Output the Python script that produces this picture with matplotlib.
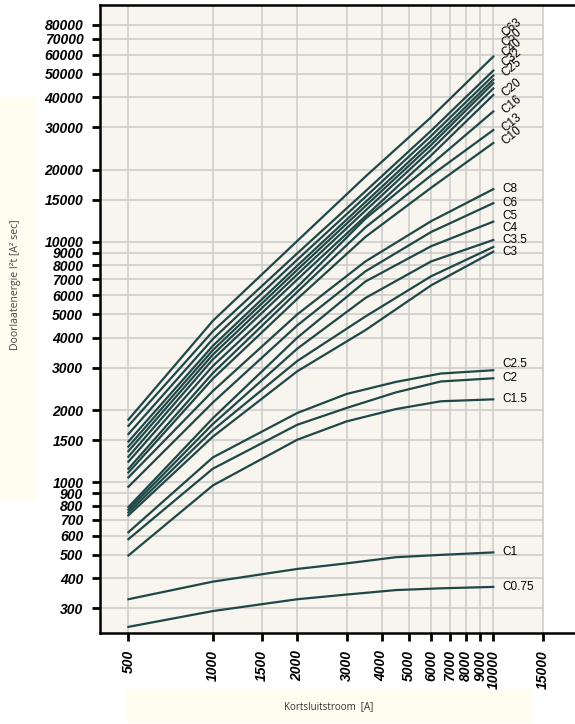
import matplotlib
matplotlib.use("Agg")
import matplotlib.pyplot as plt
from matplotlib.patches import Rectangle
from matplotlib.ticker import FixedLocator, FixedFormatter, NullLocator
import numpy as np

# short-circuit current points [A]
x_upper = [500, 1000, 2000, 3500, 6000, 10000]
x_lower = [500, 1000, 2000, 3000, 4500, 6500, 10000]

# let-through energy I2t [A2 s]
upper_names = ["C63", "C50", "C40", "C32", "C25", "", "C20", "C16", "C13", "C10"]
upper_vals = [
    [1825, 4700, 10100, 18700, 33000, 59000],
    [1720, 4250, 8970, 16250, 29000, 51600],
    [1590, 3950, 8440, 15400, 27600, 49200],
    [1480, 3700, 7970, 14650, 26300, 47300],
    [1410, 3550, 7660, 14100, 25300, 45700],
    [1350, 3400, 7330, 13500, 24200, 43500],
    [1280, 3250, 6980, 12800, 22900, 40850],
    [1220, 3050, 6500, 12500, 21000, 34900],
    [1140, 2850, 6200, 11500, 18900, 29200],
    [1100, 2700, 5800, 10500, 16800, 25800],
]

mid_names = ["C8", "C6", "C5", "C4", "C3.5", "C3"]
mid_vals = [
    [1050, 2400, 5000, 8300, 12200, 16580],
    [960, 2150, 4500, 7550, 11000, 14500],
    [790, 1850, 4000, 6850, 9600, 12150],
    [770, 1750, 3600, 5850, 8300, 10190],
    [750, 1650, 3200, 4900, 7200, 9530],
    [730, 1550, 2900, 4300, 6600, 9110],
]

lower_names = ["C2.5", "C2", "C1.5", "C1", "C0.75"]
lower_vals = [
    [621, 1271, 1945, 2334, 2620, 2838, 2929],
    [581, 1141, 1738, 2041, 2370, 2630, 2712],
    [497, 972, 1506, 1795, 2020, 2176, 2217],
    [327, 387, 437, 461, 489, 500, 512],
    [251, 292, 327, 342, 357, 363, 368],
]

x_ticks = [500, 1000, 1500, 2000, 3000, 4000, 5000, 6000, 7000, 8000, 9000, 10000, 15000]
y_ticks = [300, 400, 500, 600, 700, 800, 900, 1000, 1500, 2000, 3000, 4000, 5000,
           6000, 7000, 8000, 9000, 10000, 15000, 20000, 30000, 40000, 50000,
           60000, 70000, 80000]

line_c = "#1f4747"
grid_c = "#cbcbcb"
panel_c = "#f8f5ee"
box_c = "#fffdf0"
tick_font = dict(family="Liberation Sans", weight="bold", style="italic", size=10)

fig = plt.figure(figsize=(5.75, 7.24), dpi=100)
fig.patch.set_facecolor("white")

# label backgrounds
fig.patches.append(Rectangle((0, 1 - 500 / 724), 36 / 575, 402 / 724,
                             transform=fig.transFigure, facecolor=box_c, edgecolor="none"))
fig.patches.append(Rectangle((126 / 575, 1 - 723 / 724), 406 / 575, 33 / 724,
                             transform=fig.transFigure, facecolor=box_c, edgecolor="none"))

ax = fig.add_axes([100 / 575, 1 - 633.3 / 724, 480 / 575, 628.8 / 724])
ax.set_xscale("log")
ax.set_yscale("log")
xlim = (396, 20380)
ylim = (236, 97160)
ax.set_xlim(xlim)
ax.set_ylim(ylim)
ax.set_facecolor("white")

ax.axvspan(xlim[0], 15180, color=panel_c, zorder=0, lw=0)
ax.vlines(x_ticks, ylim[0], ylim[1], color=grid_c, lw=1.1, zorder=1)
ax.hlines(y_ticks, xlim[0], 15000, color=grid_c, lw=1.1, zorder=1)


def place_labels(names, vals, gap):
    # push labels up when they sit too close to the one below
    out = []
    prev = None
    for name, v in zip(reversed(names), reversed([s[-1] for s in vals])):
        y = v
        if prev is not None and np.log10(y) - np.log10(prev) < gap:
            y = prev * 10 ** gap
        out.append((name, y))
        prev = y
    return out


for vals in upper_vals:
    ax.plot(x_upper, vals, color=line_c, lw=1.6, zorder=3)
for vals in mid_vals:
    ax.plot(x_upper, vals, color=line_c, lw=1.6, zorder=3)
for vals in lower_vals:
    ax.plot(x_lower, vals, color=line_c, lw=1.6, zorder=3)

lab_font = dict(family="Liberation Sans", size=8.5, color="black")
for name, y in place_labels(upper_names, upper_vals, 0.042):
    if name:
        ax.text(10900, y, name, rotation=40, rotation_mode="anchor",
                ha="left", va="center", **lab_font)
for name, y in place_labels(mid_names, mid_vals, 0.05):
    ax.text(10800, y, name, ha="left", va="center", **lab_font)
for name, y in place_labels(lower_names, lower_vals, 0.06):
    ax.text(10800, y, name, ha="left", va="center", **lab_font)

ax.xaxis.set_major_locator(FixedLocator(x_ticks))
ax.xaxis.set_major_formatter(FixedFormatter([str(t) for t in x_ticks]))
ax.yaxis.set_major_locator(FixedLocator(y_ticks))
ax.yaxis.set_major_formatter(FixedFormatter([str(t) for t in y_ticks]))
ax.xaxis.set_minor_locator(NullLocator())
ax.yaxis.set_minor_locator(NullLocator())
ax.tick_params(axis="both", length=6, width=2, color="black", pad=6)
for lab in ax.get_xticklabels():
    lab.set(rotation=90, **tick_font)
for lab in ax.get_yticklabels():
    lab.set(**tick_font)

for side in ["left", "top", "bottom"]:
    ax.spines[side].set_linewidth(1.8)
    ax.spines[side].set_color("black")
ax.spines["right"].set_visible(False)

fig.text(16 / 575, 1 - 285 / 724, "Doorlaatenergie I\u00b2t [A\u00b2 sec]", rotation=90,
         ha="center", va="center", family="Open Sans", size=7.5, color="#444444")
fig.text(329 / 575, 1 - 707 / 724, "Kortsluitstroom  [A]", ha="center", va="center",
         family="Open Sans", size=7, color="#333333")

fig.savefig("out.png", dpi=100)
